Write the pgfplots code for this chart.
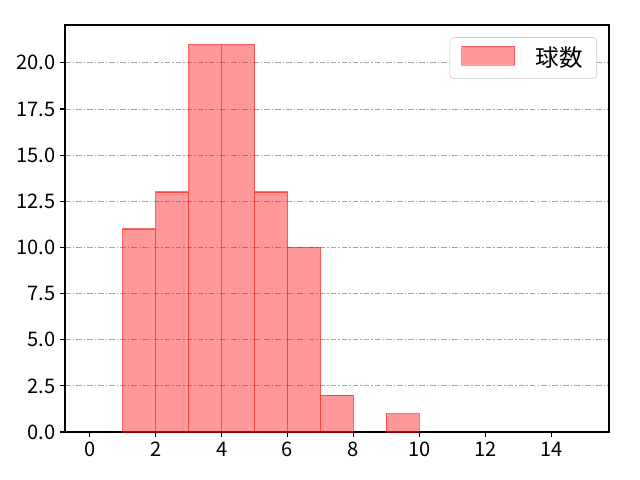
\documentclass[border=0pt]{standalone}
\usepackage{pgfplots}
\pgfplotsset{compat=1.18}
\usepackage{fontspec}
\setmainfont{Noto Sans CJK JP}
\begin{document}
\begin{tikzpicture}[x=1in,y=1in]
\path (-0.65,-0.48) rectangle (5.75,4.32);
\begin{axis}[
  at={(0,0)}, anchor=south west,
  scale only axis, width=5.44in, height=4.07in,
  xmin=-0.75, xmax=15.75, ymin=0, ymax=22.05,
  xtick={0,2,...,14}, ytick={0,2.5,...,20},
  tick align=outside, major tick length=0.0486in,
  tick style={black, line width=0.8pt},
  xtick pos=bottom, ytick pos=left,
  axis line style={black, line width=0.8pt},
  ymajorgrids, major grid style={gray!70, dash pattern=on 4pt off 1.5pt on 1pt off 1.5pt, line width=0.6pt},
  /pgf/number format/assume math mode=true,
  yticklabel style={/pgf/number format/.cd, fixed, fixed zerofill, precision=1},
  ticklabel style={font=\fontsize{14.5}{16}\selectfont},
  legend style={at={(0.978,0.97)}, anchor=north east, draw=black!20, rounded corners=3pt,
    font=\fontsize{17}{19}\selectfont, inner xsep=8pt, inner ysep=5pt},
  legend cell align=left,
  area legend,
  legend image code/.code={\draw[sharp corners, fill=red, fill opacity=0.4, draw=red, draw opacity=0.4] (0in,-0.07in) rectangle (0.53in,0.12in);},
]
\addplot[ybar interval, fill=red, fill opacity=0.4, draw=red, draw opacity=0.55, line width=0.8pt]
  coordinates {(1,11) (2,13) (3,21) (4,21) (5,13) (6,10) (7,2) (8,2)};
\addlegendentry{\hspace{0.18in}球数}
\addplot[ybar interval, fill=red, fill opacity=0.4, draw=red, draw opacity=0.55, line width=0.8pt, forget plot]
  coordinates {(9,1) (10,1)};
\end{axis}
\end{tikzpicture}
\end{document}
